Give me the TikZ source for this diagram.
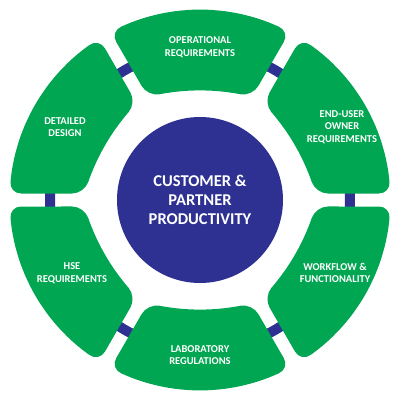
\documentclass[tikz,border=0pt]{standalone}
\usepackage{fontspec}
\setmainfont{Carlito}
\definecolor{segGreen}{RGB}{0,166,81}
\definecolor{ringBlue}{RGB}{46,49,146}
\begin{document}
\begin{tikzpicture}[x=1pt,y=1pt,
  seglabel/.style={text=white, font=\fontsize{10.5}{12.7}\selectfont\bfseries, align=center, inner sep=0pt},
  centerlabel/.style={text=white, font=\fontsize{16.5}{19}\selectfont\bfseries, align=center},
  segshape/.style={fill=segGreen, rounded corners=12pt}]
\useasboundingbox (-200,-200) rectangle (200,200);
\draw[ringBlue, line width=10pt] (0,0) circle[radius=150];
\foreach \t in {90,30,-30,-90,-150,150} {
  \begin{scope}[rotate=\t]
  \path[segshape] (-26.79:116) -- (-28.05:191) -- (-18.7:191) -- (-9.35:191)
    -- (0:191) -- (9.35:191) -- (18.7:191) -- (28.05:191)
    -- (26.79:116)
    -- ([shift={(-105.1,0)}]7.035:215.1)
    -- ([shift={(-105.1,0)}]0:215.1)
    -- ([shift={(-105.1,0)}]-7.035:215.1) -- cycle;
  \end{scope}
}
\node[circle, fill=ringBlue, minimum size=166pt, inner sep=0pt, centerlabel] (hub) at (0,0) {CUSTOMER \&\\PARTNER\\PRODUCTIVITY};
\node[seglabel] (op) at (0,153) {OPERATIONAL\\REQUIREMENTS};
\node[seglabel] (eu) at (142,73) {END-USER\\OWNER\\REQUIREMENTS};
\node[seglabel] (dd) at (-135,73) {DETAILED\\DESIGN};
\node[seglabel] (hse) at (-128,-73) {HSE\\REQUIREMENTS};
\node[seglabel] (wf) at (135,-73) {WORKFLOW \&\\FUNCTIONALITY};
\node[seglabel] (lab) at (0,-155) {LABORATORY\\REGULATIONS};
\end{tikzpicture}
\end{document}
